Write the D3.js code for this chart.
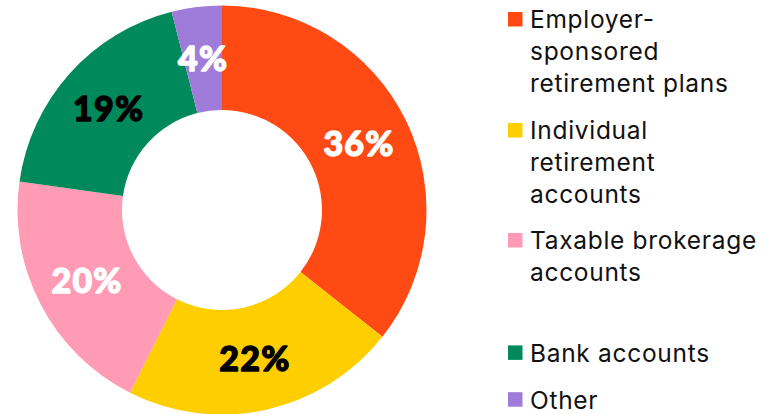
<!DOCTYPE html>
<html>
<head>
<meta charset="utf-8">
<script src="https://cdn.jsdelivr.net/npm/d3@7"></script>
<style>
  html, body { margin: 0; padding: 0; background: #fff; }
  svg { display: block; }
</style>
</head>
<body>
<svg id="chart" width="778" height="414"></svg>
<script>
const categories = ["Employer-sponsored retirement plans", "Individual retirement accounts", "Taxable brokerage accounts", "Bank accounts", "Other"];
const legendLines = [
  ["Employer-", "sponsored", "retirement plans"],
  ["Individual", "retirement", "accounts"],
  ["Taxable brokerage", "accounts"],
  ["Bank accounts"],
  ["Other"]
];
const values = [36, 22, 20, 19, 4];
const colors = ["#FF4A14", "#FFCE00", "#FF9BB4", "#008A5B", "#A07CDA"];
const labelColors = ["#ffffff", "#000000", "#ffffff", "#000000", "#ffffff"];

// layout (not data)
const legendBaselines = [28.3, 139.3, 249.3, 361.7, 408.5];
const cx = 222, cy = 210, outerR = 204.5, innerR = 100;

const svg = d3.select("#chart");
const pie = d3.pie().sort(null).value(d => d)(values);
const arc = d3.arc().innerRadius(innerR).outerRadius(outerR);
const labelArc = d3.arc().innerRadius((innerR + outerR) / 2).outerRadius((innerR + outerR) / 2);

const g = svg.append("g").attr("transform", `translate(${cx},${cy})`);
g.selectAll("path.slice").data(pie).join("path")
  .attr("class", "slice")
  .attr("d", arc)
  .attr("fill", (d, i) => colors[i]);

const fs = 34;
g.selectAll("text.lbl").data(pie).join("text")
  .attr("class", "lbl")
  .attr("transform", d => { const c = labelArc.centroid(d); return `translate(${c[0]},${c[1] + fs * 0.36})`; })
  .attr("text-anchor", "middle")
  .attr("font-family", "Lato, sans-serif")
  .attr("font-weight", 900)
  .attr("font-size", fs)
  .attr("letter-spacing", 1.2)
  .attr("fill", (d, i) => labelColors[i])
  .attr("stroke", (d, i) => labelColors[i])
  .attr("stroke-width", 1.3)
  .attr("stroke-linejoin", "round")
  .text(d => d.data + "%");

// Legend
const lx = 508, sq = 14.5, tx = 530, lineH = 32;
const legend = svg.append("g");
legendLines.forEach((lines, i) => {
  const y = legendBaselines[i];
  const item = legend.append("g");
  item.append("rect")
    .attr("x", lx).attr("y", y - 16.3)
    .attr("width", sq).attr("height", sq)
    .attr("fill", colors[i]);
  lines.forEach((ln, j) => {
    item.append("text")
      .attr("x", tx).attr("y", y + j * lineH)
      .attr("font-family", "Inter, 'Noto Sans', sans-serif")
      .attr("font-size", 24.5)
      .attr("letter-spacing", 0.7)
      .attr("fill", "#111")
      .text(ln);
  });
});
</script>
</body>
</html>
